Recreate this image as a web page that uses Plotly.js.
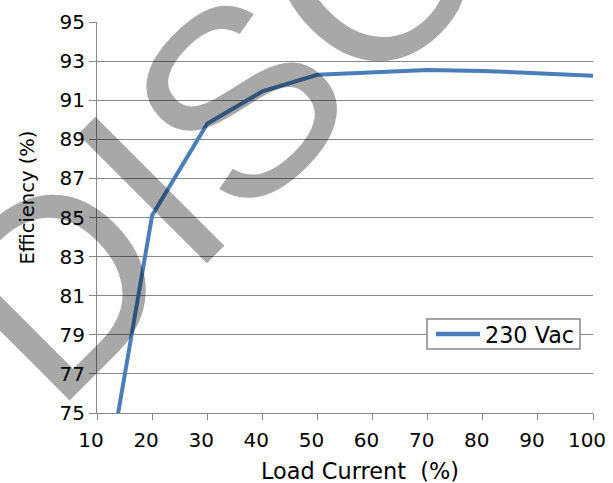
<!DOCTYPE html>
<html>
<head>
<meta charset="utf-8">
<script src="https://cdn.plot.ly/plotly-3.0.1.min.js"></script>
<style>html,body{margin:0;padding:0;background:#fff;}#chart{width:613px;height:483px;}</style>
</head>
<body>
<div id="chart"></div>
<script>
const loadCurrent = [10, 20, 30, 40, 50, 60, 70, 80, 90, 100];
const efficiency230 = [68.7, 85.1, 89.8, 91.45, 92.3, 92.45, 92.55, 92.5, 92.35, 92.25];
const seriesName = "230 Vac";
const xTicks = [10, 20, 30, 40, 50, 60, 70, 80, 90, 100];
const yTicks = [75, 77, 79, 81, 83, 85, 87, 89, 91, 93, 95];
const xTitle = "Load Current  (%)";
const yTitle = "Efficiency (%)";
const watermark = "DISCONTINUED";

const fam = "DejaVu Sans, Verdana, sans-serif";
const W = 613, H = 483, M = {l: 97, r: 20, t: 22, b: 70};
const pw = W - M.l - M.r, ph = H - M.t - M.b;
const px = v => (v - M.l) / pw;          // pixel x -> paper x
const py = v => (H - M.b - v) / ph;      // pixel y -> paper y
const lineColor = "#4a7ebb";

Plotly.newPlot("chart", [{
  x: loadCurrent, y: efficiency230, name: seriesName, type: "scatter", mode: "lines",
  line: {color: lineColor, width: 4}
}], {
  width: W, height: H, margin: M,
  paper_bgcolor: "#fff", plot_bgcolor: "#fff",
  font: {family: fam, color: "#000", size: 20},
  showlegend: false,
  xaxis: {range: [10, 100], tickvals: xTicks, ticktext: xTicks.map(String),
    showgrid: false, zeroline: false, showline: true, linecolor: "#888", linewidth: 1,
    ticks: "outside", ticklen: 6, tickcolor: "#888", ticklabelshift: -6, ticklabelstandoff: 3,
    tickfont: {family: fam, size: 20, color: "#000"}},
  yaxis: {range: [75, 95], tickvals: yTicks, ticktext: yTicks.map(String),
    showgrid: true, gridcolor: "#888", gridwidth: 1, zeroline: false,
    showline: true, linecolor: "#888", linewidth: 1,
    ticks: "outside", ticklen: 7, tickcolor: "#888",
    tickfont: {family: fam, size: 20, color: "#000"}},
  shapes: [
    {type: "rect", xref: "paper", yref: "paper", x0: px(427), x1: px(580), y0: py(349), y1: py(319),
      fillcolor: "#fff", line: {color: "#888", width: 1.5}},
    {type: "line", xref: "paper", yref: "paper", x0: px(436), x1: px(480), y0: py(334), y1: py(334),
      line: {color: lineColor, width: 4.5}}
  ],
  annotations: [
    {text: seriesName, xref: "paper", yref: "paper", x: px(484), y: py(335), xanchor: "left", yanchor: "middle",
      showarrow: false, borderpad: 0, font: {family: fam, size: 22.3, color: "#000"}},
    {text: xTitle, xref: "paper", yref: "paper", x: px(360), y: py(471), xanchor: "center", yanchor: "middle",
      showarrow: false, borderpad: 0, font: {family: fam, size: 22.4, color: "#000"}},
    {text: yTitle, xref: "paper", yref: "paper", x: px(27), y: py(197.5), xanchor: "center", yanchor: "middle",
      textangle: -90, showarrow: false, borderpad: 0, font: {family: fam, size: 19.5, color: "#000"}},
    {text: watermark, xref: "paper", yref: "paper",
      x: px(702), y: py(-362), xanchor: "center", yanchor: "middle",
      textangle: -45, showarrow: false,
      font: {family: "Liberation Sans, Arial, sans-serif", size: 265, color: "rgba(0,0,0,0.34)"}}
  ]
}, {displayModeBar: false, staticPlot: true});
</script>
</body>
</html>
